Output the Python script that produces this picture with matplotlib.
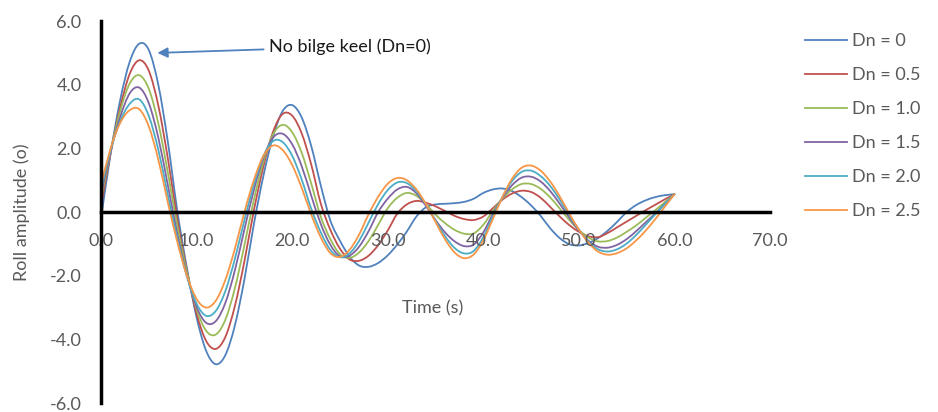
import matplotlib
matplotlib.use('Agg')
import matplotlib.pyplot as plt
from matplotlib.path import Path
from matplotlib.patches import PathPatch
from matplotlib.lines import Line2D

plt.rcParams['font.family'] = ['Lato', 'DejaVu Sans']

# time samples (s)
time_s = list(range(61))

roll_dn0 = [-0.2, 1.83, 3.51, 4.72, 5.29, 5.09, 3.99, 2.19, 0.0, -1.78,
            -3.31, -4.36, -4.78, -4.50, -3.57, -2.12, -0.37, 1.15, 2.38, 3.17,
            3.36, 2.97, 2.07, 0.83, -0.27, -0.90, -1.40, -1.68, -1.72, -1.60,
            -1.36, -1.02, -0.61, -0.14, 0.15, 0.24, 0.26, 0.28, 0.32, 0.42,
            0.60, 0.71, 0.74, 0.66, 0.47, 0.21, -0.12, -0.51, -0.82, -1.01,
            -1.05, -0.97, -0.82, -0.59, -0.31, 0.0, 0.22, 0.37, 0.47, 0.53,
            0.56]
roll_dn05 = [0.2, 1.85, 3.28, 4.34, 4.77, 4.44, 3.34, 1.67, -0.25, -1.86,
             -3.19, -4.05, -4.30, -3.93, -2.96, -1.55, 0.06, 1.44, 2.52, 3.08,
             3.03, 2.47, 1.49, 0.26, -0.56, -1.15, -1.49, -1.53, -1.37, -1.04,
             -0.58, -0.05, 0.24, 0.35, 0.29, 0.18, 0.03, -0.12, -0.22, -0.25,
             -0.14, 0.12, 0.39, 0.58, 0.67, 0.63, 0.45, 0.16, -0.14, -0.41,
             -0.62, -0.76, -0.79, -0.66, -0.48, -0.30, -0.12, 0.06, 0.23, 0.40,
             0.56]
roll_dn10 = [0.4, 1.9, 3.17, 4.04, 4.30, 3.87, 2.78, 1.23, -0.46, -1.90,
             -3.05, -3.73, -3.85, -3.39, -2.40, -1.05, 0.39, 1.59, 2.44, 2.74,
             2.51, 1.86, 0.89, -0.15, -0.85, -1.32, -1.44, -1.27, -0.91, -0.40,
             0.12, 0.45, 0.60, 0.51, 0.25, -0.08, -0.35, -0.56, -0.68, -0.67,
             -0.40, 0.04, 0.42, 0.71, 0.88, 0.88, 0.73, 0.46, 0.11, -0.25,
             -0.56, -0.80, -0.92, -0.91, -0.80, -0.62, -0.42, -0.18, 0.06, 0.31,
             0.56]
roll_dn15 = [0.55, 1.9, 2.98, 3.73, 3.91, 3.42, 2.33, 0.83, -0.71, -2.0,
             -2.98, -3.48, -3.43, -2.86, -1.84, -0.55, 0.70, 1.71, 2.34, 2.46,
             2.13, 1.44, 0.51, -0.38, -1.03, -1.39, -1.37, -1.09, -0.60, 0.0,
             0.42, 0.71, 0.79, 0.59, 0.19, -0.25, -0.64, -0.92, -1.07, -1.02,
             -0.64, -0.06, 0.44, 0.84, 1.08, 1.11, 0.96, 0.66, 0.26, -0.17,
             -0.58, -0.90, -1.09, -1.12, -1.03, -0.85, -0.60, -0.32, -0.04, 0.26,
             0.56]
roll_dn20 = [0.7, 1.95, 2.85, 3.4, 3.54, 3.02, 1.95, 0.53, -0.86, -2.04,
             -2.88, -3.26, -3.11, -2.49, -1.48, -0.26, 0.87, 1.76, 2.23, 2.20,
             1.77, 1.02, 0.10, -0.64, -1.19, -1.42, -1.30, -0.91, -0.33, 0.25,
             0.69, 0.93, 0.91, 0.65, 0.24, -0.27, -0.76, -1.13, -1.30, -1.22,
             -0.79, -0.14, 0.47, 0.97, 1.26, 1.30, 1.13, 0.82, 0.39, -0.10,
             -0.55, -0.93, -1.17, -1.24, -1.17, -0.99, -0.72, -0.40, -0.07, 0.25,
             0.56]
roll_dn25 = [0.85, 2.0, 2.8, 3.2, 3.23, 2.69, 1.64, 0.29, -0.96, -2.01,
             -2.73, -3.0, -2.79, -2.14, -1.16, 0.0, 1.01, 1.77, 2.09, 1.95,
             1.48, 0.76, -0.08, -0.80, -1.29, -1.41, -1.19, -0.71, -0.07, 0.48,
             0.89, 1.07, 1.0, 0.71, 0.25, -0.31, -0.86, -1.27, -1.45, -1.33,
             -0.89, -0.22, 0.47, 1.04, 1.39, 1.46, 1.30, 0.96, 0.49, -0.05,
             -0.55, -0.96, -1.24, -1.34, -1.29, -1.14, -0.89, -0.58, -0.22, 0.17,
             0.56]

series_labels = ['Dn = 0', 'Dn = 0.5', 'Dn = 1.0', 'Dn = 1.5', 'Dn = 2.0', 'Dn = 2.5']
x_ticks = [0, 10, 20, 30, 40, 50, 60, 70]
x_ticklabels = ['0.0', '10.0', '20.0', '30.0', '40.0', '50.0', '60.0', '70.0']
y_ticks = [-6, -4, -2, 0, 2, 4, 6]
y_ticklabels = ['-6.0', '-4.0', '-2.0', '0.0', '2.0', '4.0', '6.0']

colors = ['#4F81BD', '#C0504D', '#9BBB59', '#8064A2', '#4BACC6', '#F79646']
grey = '#595959'


def smooth_path(xs, ys):
    # Excel-style smoothed line: bezier segments through every data point
    n = len(xs)
    verts = [(xs[0], ys[0])]
    codes = [Path.MOVETO]
    for i in range(n - 1):
        i0 = max(i - 1, 0)
        i3 = min(i + 2, n - 1)
        c1 = (xs[i] + (xs[i + 1] - xs[i0]) / 6, ys[i] + (ys[i + 1] - ys[i0]) / 6)
        c2 = (xs[i + 1] - (xs[i3] - xs[i]) / 6, ys[i + 1] - (ys[i3] - ys[i]) / 6)
        verts += [c1, c2, (xs[i + 1], ys[i + 1])]
        codes += [Path.CURVE4] * 3
    return Path(verts, codes)


fig = plt.figure(figsize=(9.38, 4.12), dpi=100)
ax = fig.add_axes([0.1077, 0.0218, 0.7132, 0.927])

all_series = [roll_dn0, roll_dn05, roll_dn10, roll_dn15, roll_dn20, roll_dn25]
handles = []
for vals, lab, col in zip(all_series, series_labels, colors):
    ax.add_patch(PathPatch(smooth_path(time_s, vals), fill=False,
                           edgecolor=col, lw=1.3, capstyle='round'))
    handles.append(Line2D([], [], color=col, lw=1.3, label=lab))

ax.set_xlim(0, 70)
ax.set_ylim(-6, 6)
ax.spines['top'].set_visible(False)
ax.spines['right'].set_visible(False)
ax.spines['bottom'].set_position(('data', 0))
for s in ('left', 'bottom'):
    ax.spines[s].set_linewidth(2.5)
    ax.spines[s].set_color('black')

ax.set_xticks(x_ticks)
ax.set_xticklabels(x_ticklabels)
ax.set_yticks(y_ticks)
ax.set_yticklabels(y_ticklabels)
ax.tick_params(axis='both', length=0, labelsize=13, labelcolor=grey)
ax.tick_params(axis='x', pad=15)
ax.tick_params(axis='y', pad=14)

ax.annotate('No bilge keel (Dn=0)', xy=(5.9, 5.0), xytext=(17.6, 5.2),
            fontsize=13, color='#1a1a1a', va='center', ha='left',
            arrowprops=dict(arrowstyle='-|>', color=colors[0], lw=1.3,
                            mutation_scale=15, shrinkA=2, shrinkB=0))

ax.text(0.496, 0.248, 'Time (s)', transform=ax.transAxes, fontsize=13,
        color=grey, ha='center', va='center')
fig.text(22 / 938, 200 / 412, 'Roll amplitude (o)', rotation=90, fontsize=13,
         color=grey, ha='center', va='center')

fig.legend(handles=handles, loc='upper left',
           bbox_to_anchor=(805 / 938, 1 - 33 / 412),
           frameon=False, fontsize=13, labelcolor=grey, handlelength=2.3,
           handletextpad=0.3, labelspacing=1.0, borderaxespad=0, borderpad=0)

fig.savefig('out.png', dpi=100)
